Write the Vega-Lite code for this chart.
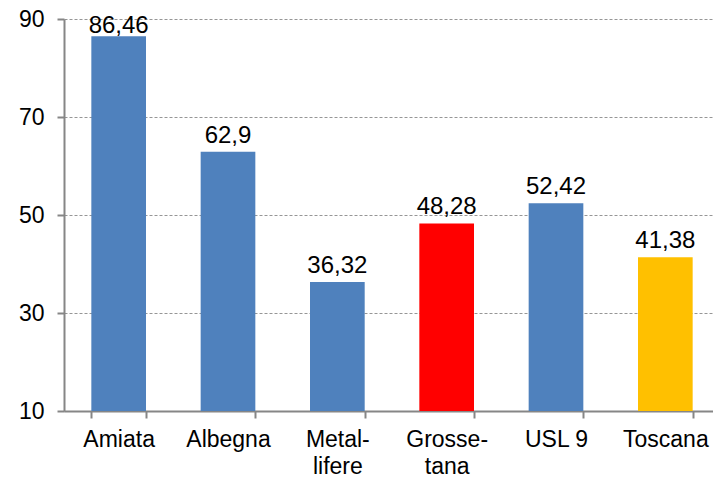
{
  "$schema": "https://vega.github.io/schema/vega-lite/v6.json",
  "autosize": {"type": "none"},
  "padding": {"left": 64, "top": 19, "right": 0, "bottom": 68},
  "width": 656,
  "height": 392,
  "background": "white",
  "config": {
    "locale": {"number": {"decimal": ",", "thousands": ".", "grouping": [3], "currency": ["", " €"]}},
    "font": "Liberation Sans",
    "view": {"stroke": null}
  },
  "data": {
    "values": [
      {"zona": "Amiata", "valore": 86.46, "gruppo": "zona"},
      {"zona": "Albegna", "valore": 62.9, "gruppo": "zona"},
      {"zona": "Metal-|lifere", "valore": 36.32, "gruppo": "zona"},
      {"zona": "Grosse-|tana", "valore": 48.28, "gruppo": "capoluogo"},
      {"zona": "USL 9", "valore": 52.42, "gruppo": "zona"},
      {"zona": "Toscana", "valore": 41.38, "gruppo": "regione"}
    ]
  },
  "encoding": {
    "x": {
      "field": "zona", "type": "nominal", "sort": null,
      "scale": {"paddingInner": 0.5, "paddingOuter": 0.25},
      "axis": {
        "title": null, "labelAngle": 0, "labelFontSize": 23, "labelColor": "black",
        "labelPadding": 10, "labelLineHeight": 27,
        "labelExpr": "datum.value ? split(datum.value, '|') : ''",
        "domainColor": "#868686", "domainWidth": 2,
        "tickColor": "#868686", "tickWidth": 2, "tickSize": 7, "tickBand": "extent",
        "grid": false
      }
    },
    "y": {
      "field": "valore", "type": "quantitative",
      "scale": {"domain": [10, 90], "nice": false, "zero": false},
      "axis": {
        "title": null, "values": [10, 30, 50, 70, 90], "labelFontSize": 23, "labelColor": "black",
        "labelPadding": 13,
        "domainColor": "#868686", "domainWidth": 2,
        "tickColor": "#868686", "tickWidth": 2, "tickSize": 7,
        "grid": true, "gridColor": "#969696", "gridDash": [3, 2], "gridWidth": 1
      }
    }
  },
  "layer": [
    {
      "mark": {"type": "bar", "clip": true},
      "encoding": {
        "color": {
          "field": "gruppo", "type": "nominal", "legend": null,
          "scale": {"domain": ["zona", "capoluogo", "regione"], "range": ["#4F81BD", "#FF0000", "#FFC000"]}
        }
      }
    },
    {
      "transform": [{"filter": "datum.valore < 80"}],
      "mark": {"type": "text", "baseline": "alphabetic", "dy": -9, "fontSize": 24, "color": "black"},
      "encoding": {
        "text": {"field": "valore", "type": "quantitative", "format": "~g"}
      }
    },
    {
      "transform": [{"filter": "datum.valore >= 80"}],
      "mark": {"type": "text", "baseline": "alphabetic", "dy": -3, "fontSize": 24, "color": "black"},
      "encoding": {
        "text": {"field": "valore", "type": "quantitative", "format": "~g"}
      }
    }
  ]
}
